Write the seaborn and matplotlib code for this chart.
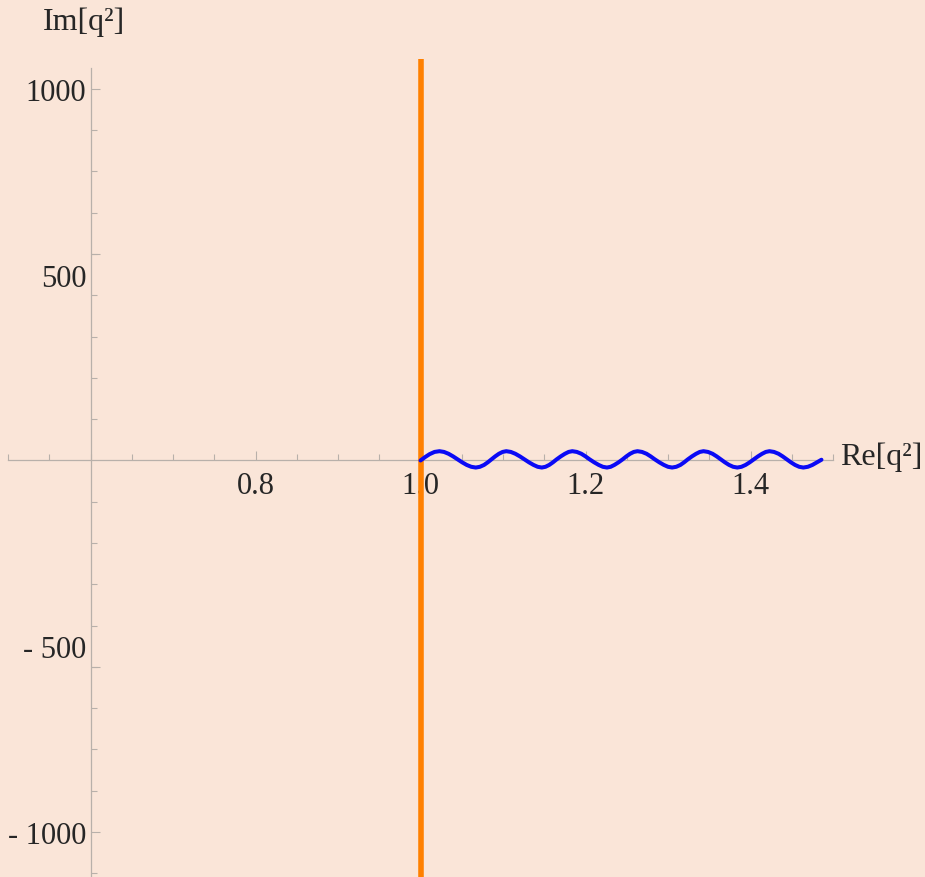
import numpy as np
import pandas as pd
import matplotlib
matplotlib.use("Agg")
import matplotlib.pyplot as plt
from matplotlib.ticker import FixedLocator, FixedFormatter
import seaborn as sns

# ---- data ----
wave_re = [1.000, 1.0055, 1.011, 1.017, 1.023, 1.0285, 1.034, 1.0395, 1.045, 1.0505, 1.056, 1.0615, 1.067, 1.072, 1.077, 1.0815,
           1.086, 1.0905, 1.095, 1.0995, 1.104, 1.1095, 1.115, 1.1205, 1.126, 1.1315, 1.137, 1.142, 1.147, 1.1515, 1.156, 1.1605,
           1.165, 1.170, 1.175, 1.1795, 1.184, 1.1895, 1.195, 1.200, 1.205, 1.2105, 1.216, 1.221, 1.226, 1.2305, 1.235, 1.240,
           1.245, 1.2495, 1.254, 1.2585, 1.263, 1.2685, 1.274, 1.279, 1.284, 1.2895, 1.295, 1.300, 1.305, 1.310, 1.315, 1.3195,
           1.324, 1.329, 1.334, 1.3385, 1.343, 1.3485, 1.354, 1.359, 1.364, 1.369, 1.374, 1.379, 1.384, 1.389, 1.394, 1.399,
           1.404, 1.409, 1.414, 1.4185, 1.423, 1.4285, 1.434, 1.439, 1.444, 1.449, 1.454, 1.459, 1.464, 1.4695, 1.475, 1.4805,
           1.486]
wave_im = [0, 9, 17, 23, 25, 23, 18, 11, 3, -5, -12, -17, -19, -17, -12, -5,
           3, 11, 18, 23, 25, 23, 18, 11, 3, -5, -12, -17, -19, -17, -12, -5,
           3, 11, 18, 23, 25, 23, 18, 11, 3, -5, -12, -17, -19, -17, -12, -5,
           3, 11, 18, 23, 25, 23, 18, 11, 3, -5, -12, -17, -19, -17, -12, -5,
           3, 11, 18, 23, 25, 23, 18, 11, 3, -5, -12, -17, -19, -17, -12, -5,
           3, 11, 18, 23, 25, 23, 18, 11, 3, -5, -12, -17, -19, -17, -12, -5,
           2]

cut_re = [1.0, 1.0]
cut_im = [-1300, 1081]

x_major = [0.8, 1.0, 1.2, 1.4]
x_labels = ["0.8", "1.0", "1.2", "1.4"]
y_labels_pos = [-1000, -500, 500, 1000]
y_labels = ["- 1000", "- 500", "500", "1000"]

BG = "#FAE5D8"
AXC = "#B8B0AA"
TXT = "#262626"
FS = 22

sns.set_theme(style="white")
plt.rcParams["font.family"] = ["Liberation Serif", "DejaVu Serif"]

fig = plt.figure(figsize=(9.25, 8.78), dpi=100, facecolor=BG)
ax = fig.add_axes([0, 0, 1, 1])
ax.set_facecolor(BG)

xmin, xmax = 0.4903, 1.6115
ymin, ymax = -1121, 1242

df_cut = pd.DataFrame({"re": cut_re, "im": cut_im})
df_wave = pd.DataFrame({"re": wave_re, "im": wave_im})
sns.lineplot(data=df_cut, x="re", y="im", estimator=None, sort=False,
             color="#FF8000", linewidth=4.0, ax=ax, zorder=3,
             solid_capstyle="butt")
sns.lineplot(data=df_wave, x="re", y="im", estimator=None, sort=False,
             color="#0A0AF5", linewidth=2.9, ax=ax, zorder=4,
             solid_capstyle="round")

ax.set_xlim(xmin, xmax)
ax.set_ylim(ymin, ymax)
ax.set_xlabel("")
ax.set_ylabel("")

for s in ["top", "right"]:
    ax.spines[s].set_visible(False)
ax.spines["left"].set_position(("data", 0.6))
ax.spines["bottom"].set_position(("data", 0))
ax.spines["left"].set_bounds(-1300, 1057)
ax.spines["bottom"].set_bounds(0.5, 1.5)
for s in ["left", "bottom"]:
    ax.spines[s].set_color(AXC)
    ax.spines[s].set_linewidth(0.9)
    ax.spines[s].set_zorder(1)

# x ticks
ax.xaxis.set_major_locator(FixedLocator(x_major))
ax.xaxis.set_major_formatter(FixedFormatter(x_labels))
ax.xaxis.set_minor_locator(FixedLocator(list(np.round(np.arange(0.5, 1.5001, 0.05), 3))))
ax.tick_params(axis="x", which="major", direction="in", length=6.5, width=0.8,
               color=AXC, labelsize=FS, labelcolor=TXT, pad=7.5, bottom=True)
ax.tick_params(axis="x", which="minor", direction="in", length=4, width=0.8,
               color=AXC, bottom=True)

# y ticks: labels (no marks) on primary
ax.yaxis.set_major_locator(FixedLocator(y_labels_pos))
ax.yaxis.set_major_formatter(FixedFormatter(y_labels))
ax.yaxis.set_minor_locator(FixedLocator([k * 1000 / 9 for k in range(-10, 10) if k != 0]))
ax.tick_params(axis="y", which="major", direction="in", length=0,
               labelsize=FS, labelcolor=TXT, pad=3.0, left=True)
ax.tick_params(axis="y", which="minor", direction="in", length=4, width=0.8,
               color=AXC, left=True)

# long tick marks on the y axis
sec = ax.secondary_yaxis((0.6 - xmin) / (xmax - xmin))
sec.spines["left"].set_visible(False)
sec.yaxis.set_major_locator(FixedLocator([-1000, -5000 / 9, 5000 / 9, 1000]))
sec.yaxis.set_minor_locator(FixedLocator([]))
sec.tick_params(axis="y", which="major", direction="in", length=6.5, width=0.8,
                color=AXC, labelleft=False, left=True)

fig.text(840 / 925, 1 - 457 / 878, "Re[q²]", ha="left", va="center",
         fontsize=FS + 1, color=TXT)
fig.text(84 / 925, 1 - 22 / 878, "Im[q²]", ha="center", va="center",
         fontsize=FS + 1, color=TXT)

fig.savefig("out.png", dpi=100, facecolor=BG)
